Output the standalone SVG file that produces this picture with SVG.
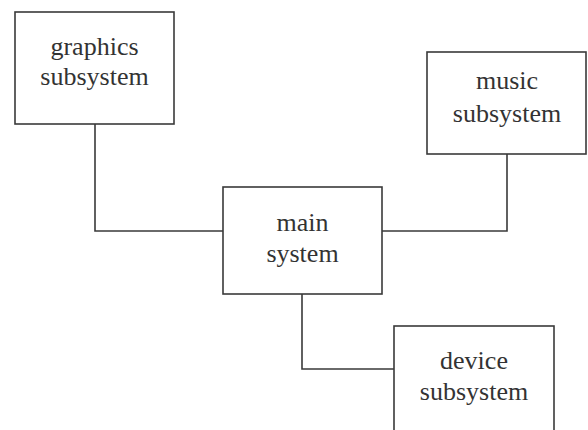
<svg xmlns="http://www.w3.org/2000/svg" width="588" height="430" viewBox="0 0 588 430">
  <style>
    .box { fill: #ffffff; stroke: #3a3a3a; stroke-width: 1.6; }
    .wire { fill: none; stroke: #3a3a3a; stroke-width: 1.6; }
    .label { font-family: "Liberation Serif", "DejaVu Serif", serif; font-size: 26px; fill: #333333; text-anchor: middle; }
  </style>
  <rect width="588" height="430" fill="#ffffff"/>
  <g id="connectors">
    <polyline class="wire" points="95,124 95,231 223,231"/>
    <polyline class="wire" points="382,231 507,231 507,154"/>
    <polyline class="wire" points="302,294 302,369 394,369"/>
  </g>
  <g id="graphics">
    <rect class="box" x="15" y="12" width="159" height="112"/>
    <text class="label" x="94.5" y="55">graphics</text>
    <text class="label" x="94.5" y="85">subsystem</text>
  </g>
  <g id="music">
    <rect class="box" x="427" y="52" width="159" height="102"/>
    <text class="label" x="507" y="89">music</text>
    <text class="label" x="507" y="122">subsystem</text>
  </g>
  <g id="main">
    <rect class="box" x="223" y="187" width="159" height="107"/>
    <text class="label" x="302.5" y="231">main</text>
    <text class="label" x="302.5" y="262">system</text>
  </g>
  <g id="device">
    <rect class="box" x="394" y="326" width="160" height="120"/>
    <text class="label" x="474" y="369">device</text>
    <text class="label" x="474" y="400">subsystem</text>
  </g>
</svg>
